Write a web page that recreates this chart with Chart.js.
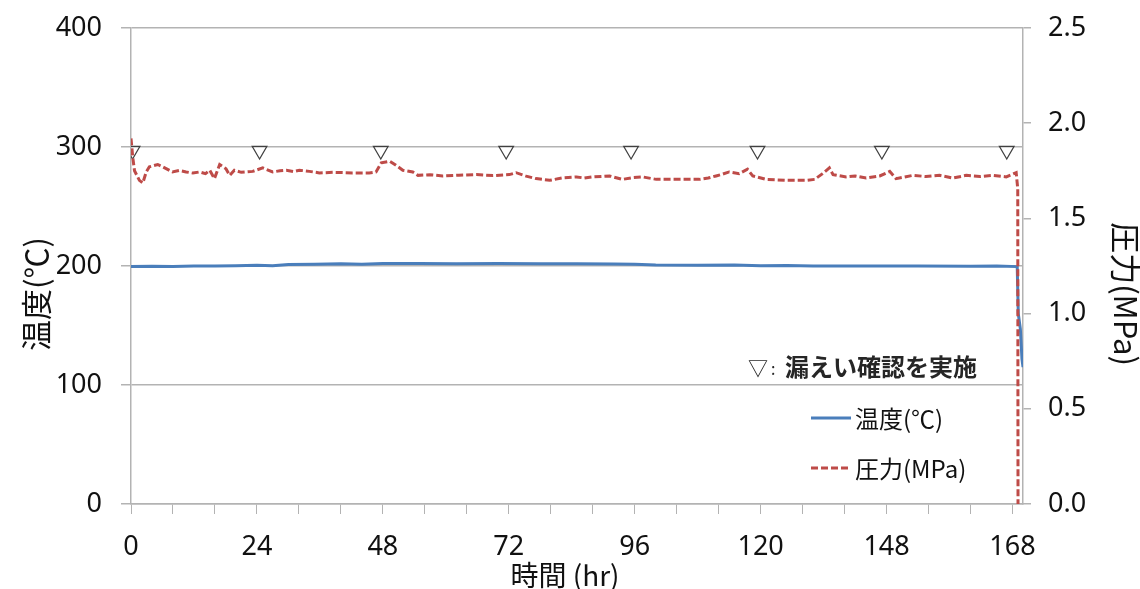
<!DOCTYPE html>
<html lang="ja">
<head>
<meta charset="utf-8">
<title>温度・圧力</title>
<script src="https://cdn.jsdelivr.net/npm/chart.js@4.4.1/dist/chart.umd.min.js"></script>
<style>
  html, body { margin: 0; padding: 0; background: #fff; }
  canvas { display: block; }
</style>
</head>
<body>
<canvas id="chartTempPress" width="1140" height="589"></canvas>
<script>
"use strict";

// x axis: minor ticks every 8 hr, labels every 24 hr (original says "148" at 144)
const hourTicks = [0, 8, 16, 24, 32, 40, 48, 56, 64, 72, 80, 88, 96, 104, 112, 120, 128, 136, 144, 152, 160, 168];
const labelHours = [0, 24, 48, 72, 96, 120, 144, 168];
const labelTexts = ["0", "24", "48", "72", "96", "120", "148", "168"];

// temperature (deg C)
const tempHours = [0, 4, 8, 12, 16, 20, 24, 27, 30, 35, 40, 44, 48, 55, 62, 70, 78, 85, 92, 96, 100, 108, 115, 120, 125, 130, 140, 150, 160, 165, 168.9, 169.1, 169.5, 169.8, 170];
const tempValues = [199.5, 199.8, 199.6, 199.9, 200.1, 200.3, 200.6, 200.2, 201.2, 201.5, 201.8, 201.5, 202, 202.2, 201.9, 202, 201.9, 201.8, 201.6, 201.4, 200.8, 200.6, 200.9, 200.2, 200.4, 200.1, 200, 199.9, 199.8, 199.9, 199.5, 160, 147, 122, 115];

// pressure (MPa)
const pressHours = [0, 0.34, 0.67, 1.6, 2.25, 2.9, 3.5, 5.1, 6.0, 7.9, 9.2, 10.5, 11.8, 13.1, 14.2, 15.0, 15.9, 16.9, 18.1, 18.8, 19.7, 21.0, 22.0, 23.2, 25.1, 26.0, 27.0, 28.4, 29.6, 31.0, 32.1, 34.0, 35.9, 38.5, 42.2, 45.4, 46.7, 47.7, 49.3, 50.5, 51.8, 53.7, 54.7, 57.0, 59.4, 62.5, 65.8, 69.0, 72.1, 73.4, 75.3, 77.2, 79.8, 82.3, 84.9, 86.4, 88.0, 91.2, 93.7, 95.6, 97.5, 100.1, 103.9, 108.3, 110.0, 111.5, 112.8, 114.0, 115.9, 117.5, 118.5, 121.0, 124.9, 128.7, 130.3, 131.8, 133.1, 133.8, 136.3, 138.0, 140.1, 142.7, 144.6, 145.8, 149.0, 151.5, 154.1, 156.6, 159.2, 161.8, 164.3, 166.8, 168.7, 169.0, 169.05];
const pressValues = [1.92, 1.82, 1.75, 1.70, 1.686, 1.744, 1.771, 1.783, 1.771, 1.744, 1.752, 1.744, 1.738, 1.744, 1.735, 1.753, 1.709, 1.783, 1.761, 1.726, 1.753, 1.742, 1.744, 1.747, 1.765, 1.755, 1.744, 1.750, 1.753, 1.746, 1.753, 1.747, 1.739, 1.742, 1.739, 1.739, 1.744, 1.792, 1.80, 1.779, 1.753, 1.744, 1.726, 1.729, 1.723, 1.727, 1.730, 1.725, 1.730, 1.740, 1.722, 1.709, 1.70, 1.713, 1.718, 1.712, 1.718, 1.723, 1.705, 1.714, 1.718, 1.705, 1.705, 1.705, 1.712, 1.723, 1.733, 1.744, 1.735, 1.758, 1.723, 1.705, 1.70, 1.70, 1.705, 1.735, 1.765, 1.730, 1.718, 1.723, 1.712, 1.723, 1.747, 1.709, 1.726, 1.720, 1.726, 1.712, 1.726, 1.720, 1.726, 1.718, 1.740, 1.656, 0];

// leak checks (▽ markers)
const checkHours = [0.3, 24.5, 47.6, 71.5, 95.3, 119.4, 143.1, 166.9];
const checkTemp = [297, 297, 297, 297, 297, 297, 297, 297];

const toXY = (xs, ys) => xs.map((x, i) => ({ x: x, y: ys[i] }));

const BLUE = "#4a7ebb";
const RED = "#be4b48";
const GRID = "#b3b3b3";
const TEXT = "#111111";
const jpFont = "'Noto Sans CJK JP', 'Noto Sans', sans-serif";
const numFont = "'Noto Sans', 'Open Sans', sans-serif";

// axis titles + legend, placed like the Excel original (titles centred on the whole chart height)
const titlesAndLegend = {
    id: "titlesAndLegend",
    afterDraw(chart) {
        const ctx = chart.ctx;
        ctx.save();
        ctx.textBaseline = "middle";
        ctx.textAlign = "center";
        ctx.fillStyle = TEXT;

        ctx.font = "31px " + jpFont;
        ctx.save();
        ctx.translate(36, 294);
        ctx.rotate(-Math.PI / 2);
        ctx.fillText("温度(℃)", 0, 0);
        ctx.restore();

        ctx.save();
        ctx.translate(1126, 294);
        ctx.rotate(Math.PI / 2);
        ctx.fillText("圧力(MPa)", 0, 0);
        ctx.restore();

        ctx.font = "28px " + jpFont;
        ctx.fillText("時間 (hr)", 565, 575);

        // legend
        ctx.textAlign = "left";
        ctx.fillStyle = "#262626";
        ctx.font = "20px " + jpFont;
        ctx.fillText("▽", 748, 368);
        ctx.font = "16px " + jpFont;
        ctx.fillText(":", 771, 369);
        ctx.font = "bold 24px " + jpFont;
        ctx.fillText("漏えい確認を実施", 785, 367);

        ctx.lineWidth = 3;
        ctx.strokeStyle = BLUE;
        ctx.beginPath();
        ctx.moveTo(811, 418);
        ctx.lineTo(851, 418);
        ctx.stroke();

        ctx.strokeStyle = RED;
        ctx.setLineDash([7, 3]);
        ctx.beginPath();
        ctx.moveTo(811, 468);
        ctx.lineTo(851, 468);
        ctx.stroke();
        ctx.setLineDash([]);

        ctx.fillStyle = TEXT;
        ctx.font = "24px " + jpFont;
        ctx.fillText("温度(℃)", 855, 419);
        ctx.fillText("圧力(MPa)", 855, 469);
        ctx.restore();
    }
};

const ctx = document.getElementById("chartTempPress").getContext("2d");
new Chart(ctx, {
    type: "line",
    data: {
        datasets: [
            {
                label: "圧力(MPa)",
                data: toXY(pressHours, pressValues),
                yAxisID: "yP",
                borderColor: RED,
                borderWidth: 3,
                borderDash: [7, 3],
                pointRadius: 0,
                fill: false,
                tension: 0,
                order: 0
            },
            {
                label: "漏えい確認",
                data: toXY(checkHours, checkTemp),
                yAxisID: "yT",
                showLine: false,
                pointStyle: "triangle",
                rotation: 180,
                pointRadius: 8.5,
                pointBackgroundColor: "rgba(255,255,255,0)",
                pointBorderColor: "#404040",
                pointBorderWidth: 1.2,
                order: 1
            },
            {
                label: "温度(℃)",
                data: toXY(tempHours, tempValues),
                yAxisID: "yT",
                borderColor: BLUE,
                borderWidth: 3,
                pointRadius: 0,
                fill: false,
                tension: 0,
                order: 2
            }
        ]
    },
    options: {
        responsive: false,
        animation: false,
        layout: { padding: { top: 28, left: 0, right: 0, bottom: 0 } },
        plugins: {
            legend: { display: false },
            tooltip: { enabled: false }
        },
        scales: {
            x: {
                type: "linear",
                min: 0,
                max: 170,
                afterBuildTicks: (scale) => { scale.ticks = hourTicks.map(v => ({ value: v })); },
                afterFit: (scale) => { scale.height = 85; },
                ticks: {
                    autoSkip: false,
                    maxRotation: 0,
                    padding: 17,
                    color: TEXT,
                    font: { family: numFont, size: 27 },
                    callback: (v) => {
                        const i = labelHours.indexOf(v);
                        return i >= 0 ? labelTexts[i] : "";
                    }
                },
                grid: { drawOnChartArea: false, drawTicks: true, tickLength: 10, color: GRID, lineWidth: 1 },
                border: { color: GRID, width: 1.5 }
            },
            yT: {
                type: "linear",
                position: "left",
                min: 0,
                max: 400,
                afterFit: (scale) => { scale.width = 131; scale.paddingTop = 0; scale.paddingBottom = 0; },
                ticks: {
                    stepSize: 100,
                    padding: 19,
                    color: TEXT,
                    font: { family: numFont, size: 27 }
                },
                grid: { drawOnChartArea: true, drawTicks: true, tickLength: 10, color: GRID, lineWidth: 1.5 },
                border: { color: GRID, width: 1.5 }
            },
            yP: {
                type: "linear",
                position: "right",
                min: 0,
                max: 2.5,
                afterFit: (scale) => { scale.width = 117; scale.paddingTop = 0; scale.paddingBottom = 0; },
                ticks: {
                    stepSize: 0.5,
                    padding: 17,
                    color: TEXT,
                    font: { family: numFont, size: 27 },
                    callback: (v) => v.toFixed(1)
                },
                grid: { drawOnChartArea: false, drawTicks: true, tickLength: 8, color: GRID, lineWidth: 1.5 },
                border: { color: GRID, width: 1.5 }
            }
        }
    },
    plugins: [titlesAndLegend]
});
</script>
</body>
</html>
